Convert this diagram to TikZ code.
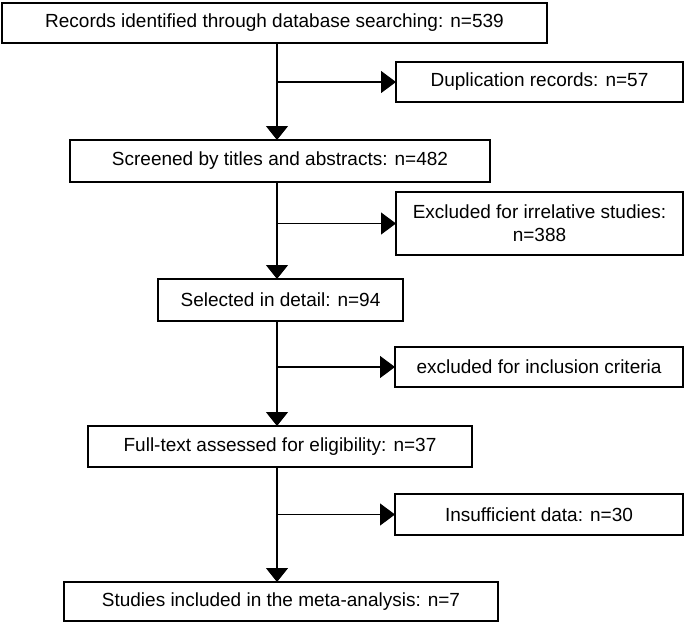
\documentclass[tikz,border=0pt]{standalone}
\usepackage{fontspec}
\setmainfont{Liberation Sans}
\usetikzlibrary{arrows.meta}
\begin{document}
\begin{tikzpicture}[x=1pt,y=-1pt,
  box/.style={draw=black,line width=1.8pt,fill=white,inner sep=0pt,outer sep=0pt,
    align=center,font=\fontsize{19}{23}\selectfont},
  arr/.style={line width=1.2pt,-{Triangle[width=22pt,length=14pt]}},
  arrh/.style={line width=1.2pt,-{Triangle[width=22pt,length=15pt]}}]
\useasboundingbox (0,0) rectangle (685,625);
\node[box,minimum width=545pt,minimum height=40pt] (b1) at (274.5,23) {Records identified through database searching: n=539};
\node[box,minimum width=287pt,minimum height=40pt] (dup) at (539.5,82) {Duplication records: n=57};
\node[box,minimum width=420pt,minimum height=42pt] (b2) at (280,161) {Screened by titles and abstracts: n=482};
\node[box,minimum width=287pt,minimum height=63pt] (exc) at (539.5,223.5) {Excluded for irrelative studies:\\n=388};
\node[box,minimum width=245pt,minimum height=42pt] (b3) at (280.5,300) {Selected in detail: n=94};
\node[box,minimum width=288pt,minimum height=40pt] (inc) at (539,367) {excluded for inclusion criteria};
\node[box,minimum width=384pt,minimum height=41pt] (b4) at (280,446.5) {Full-text assessed for eligibility: n=37};
\node[box,minimum width=288pt,minimum height=41pt] (ins) at (539,514.5) {Insufficient data: n=30};
\node[box,minimum width=434pt,minimum height=39pt] (b5) at (281,601.5) {Studies included in the meta-analysis: n=7};
\coordinate (col) at (277,0);
\draw[arr] (b1.south -| col) -- (b2.north -| col);
\draw[arr] (b2.south -| col) -- (b3.north -| col);
\draw[arr] (b3.south -| col) -- (b4.north -| col);
\draw[arr] (b4.south -| col) -- (b5.north -| col);
\draw[arrh] (col |- dup.west) -- (dup.west);
\draw[arrh] (col |- exc.west) -- (exc.west);
\draw[arrh] (col |- inc.west) -- (inc.west);
\draw[arrh] (col |- ins.west) -- (ins.west);
\end{tikzpicture}
\end{document}
